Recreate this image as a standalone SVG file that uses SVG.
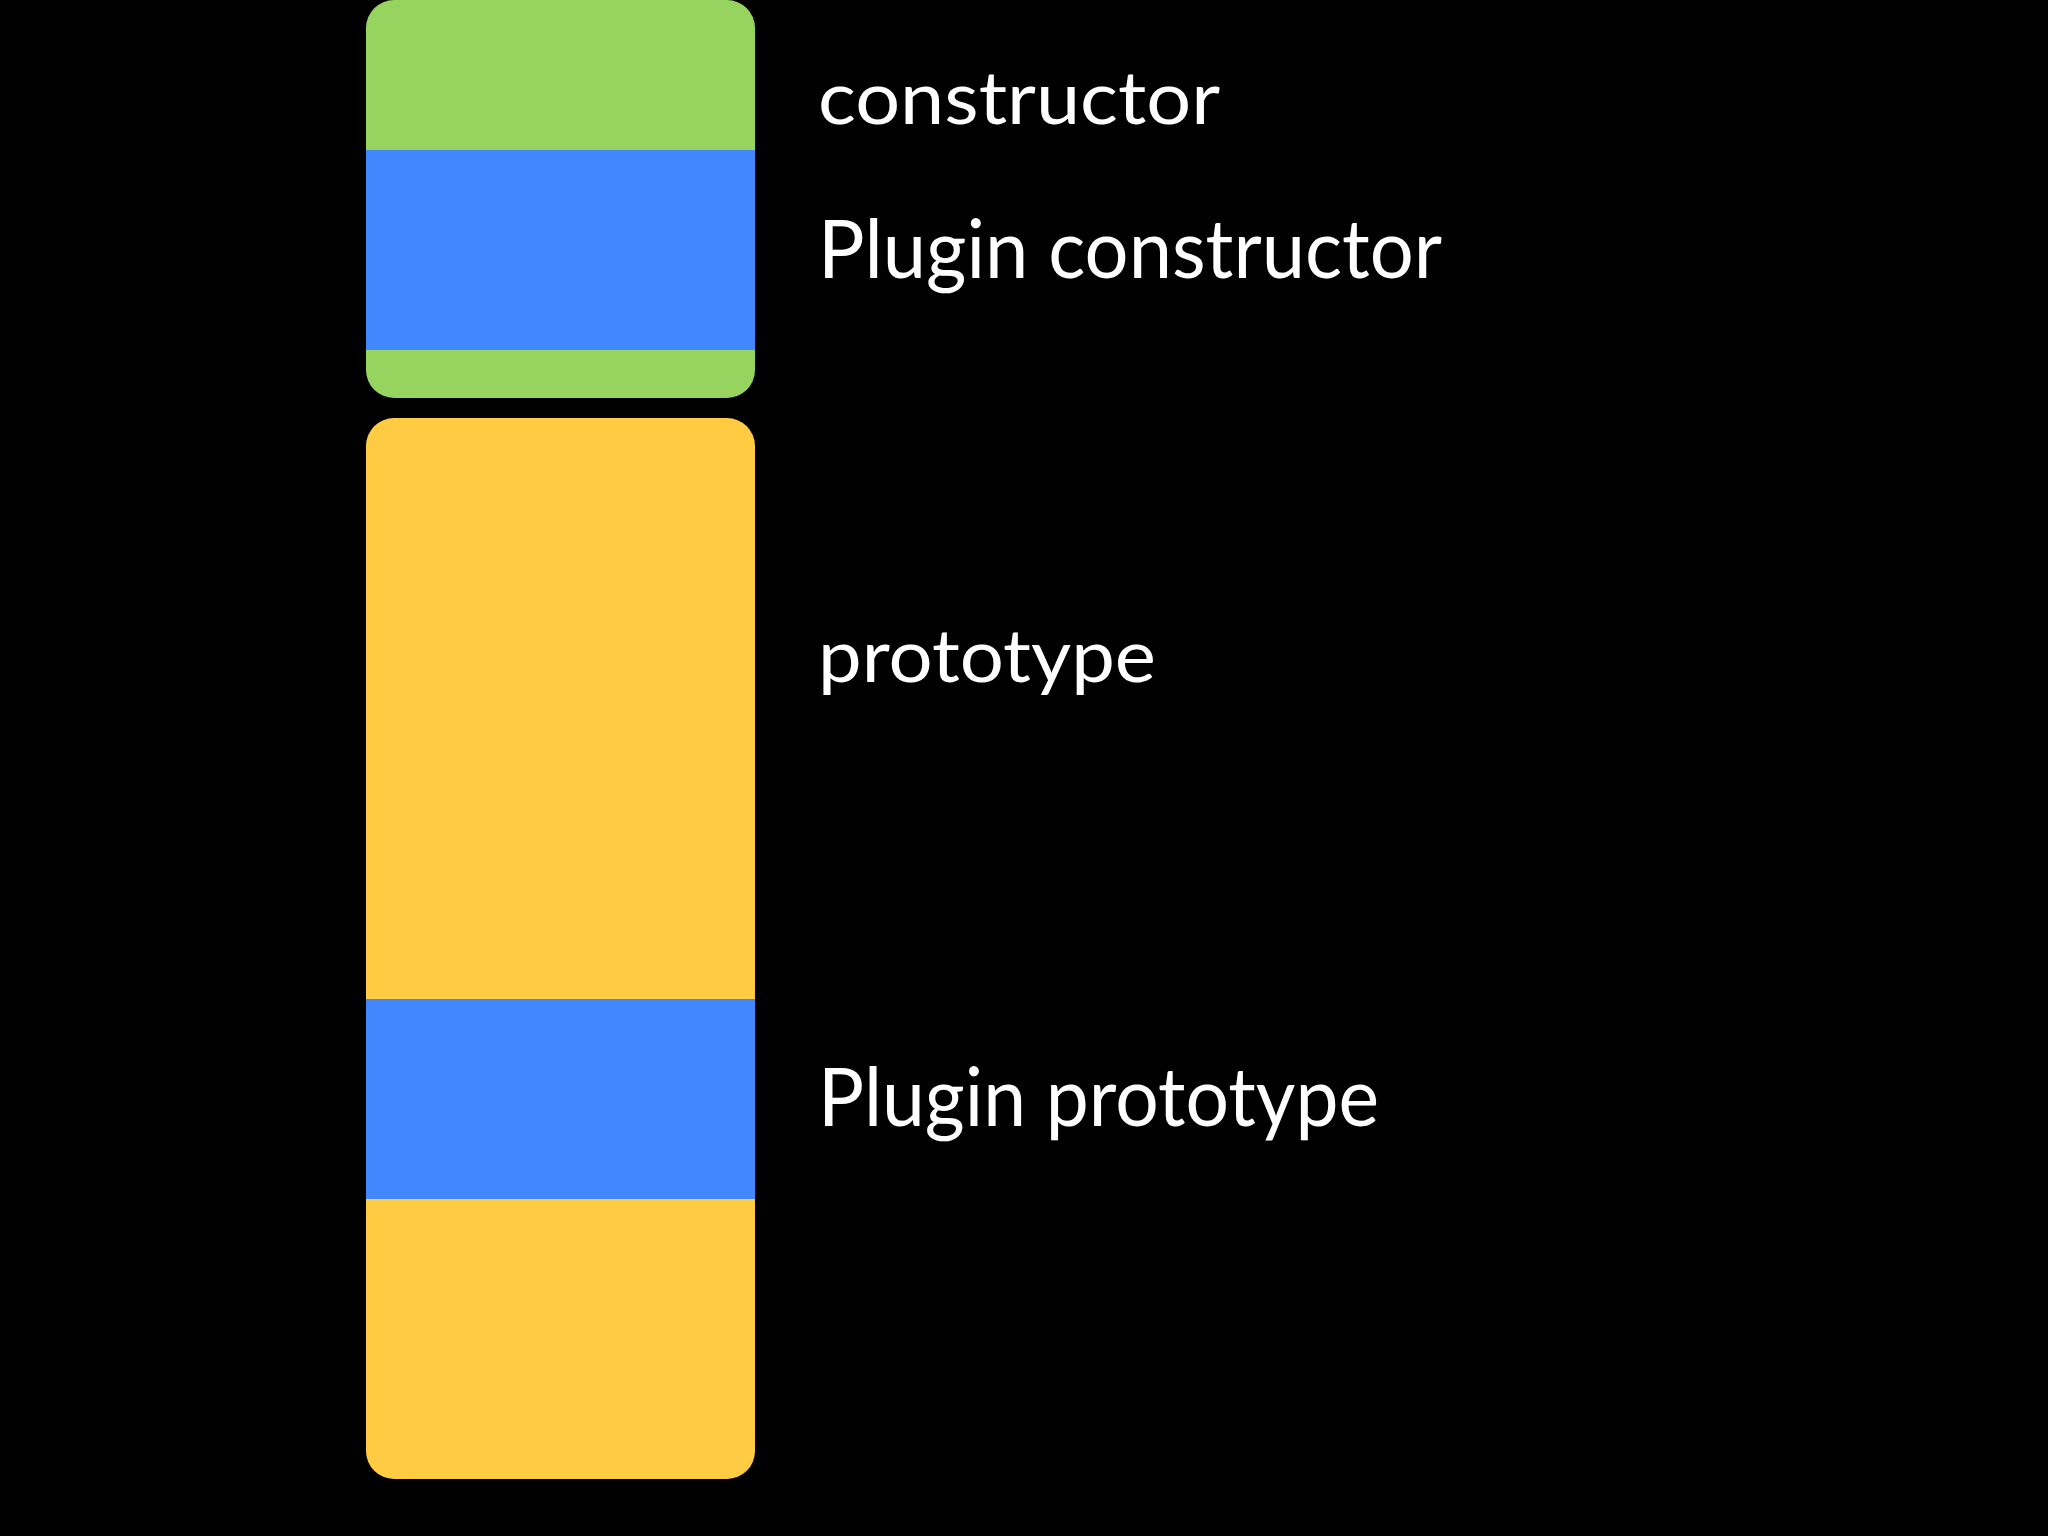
<svg xmlns="http://www.w3.org/2000/svg" width="2048" height="1536" viewBox="0 0 2048 1536">
<defs>
<style>
text{font-family:"Lato","Liberation Sans",sans-serif;fill:#fff}
.b{fill:#4287fd}
</style>
<clipPath id="c1"><rect x="366" y="0" width="389" height="398" rx="28"/></clipPath>
<clipPath id="c2"><rect x="366" y="418" width="389" height="1061" rx="28"/></clipPath>
</defs>
<rect width="2048" height="1536" fill="#000"/>
<g id="constructor">
<rect x="366" y="0" width="389" height="398" rx="28" fill="#96d35f"/>
<rect class="b" x="366" y="150" width="389" height="200" clip-path="url(#c1)"/>
<text x="818" y="124" font-size="74" textLength="402" lengthAdjust="spacingAndGlyphs">constructor</text>
<text x="818" y="278" font-size="82" textLength="624" lengthAdjust="spacingAndGlyphs">Plugin constructor</text>
</g>
<g id="prototype">
<rect x="366" y="418" width="389" height="1061" rx="28" fill="#fecb42"/>
<rect class="b" x="366" y="999" width="389" height="200" clip-path="url(#c2)"/>
<text x="818" y="682" font-size="74" textLength="338" lengthAdjust="spacingAndGlyphs">prototype</text>
<text x="818" y="1126" font-size="82" textLength="561" lengthAdjust="spacingAndGlyphs">Plugin prototype</text>
</g>
<g id="connectors"/>
</svg>
